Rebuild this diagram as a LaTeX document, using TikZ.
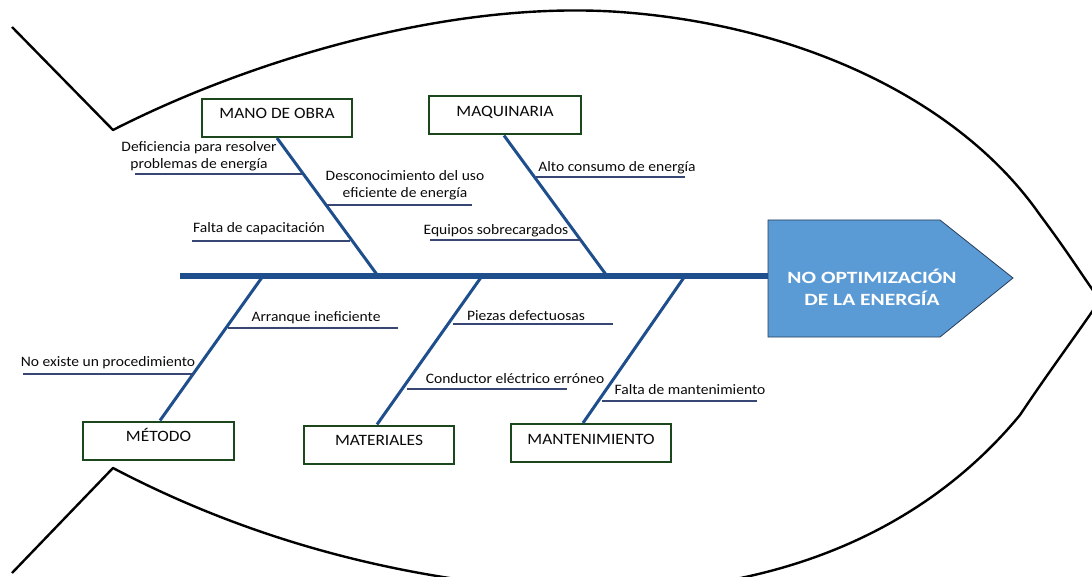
\documentclass[tikz,border=0pt]{standalone}
\usepackage{fontspec}
\setmainfont{Carlito}
\newfontfamily\lblfont[FakeStretch=1.08]{Carlito}
\newfontfamily\catfont[FakeStretch=1.1]{Carlito}
\newfontfamily\headfont[FakeStretch=1.25]{Carlito}
\definecolor{bonecol}{RGB}{30,78,140}
\definecolor{subcol}{RGB}{55,70,115}
\definecolor{boxcol}{RGB}{28,70,28}
\definecolor{headfill}{RGB}{91,155,213}
\definecolor{headline}{RGB}{40,60,90}
\definecolor{txtcol}{RGB}{10,10,10}
\tikzset{
  fish/.style={line width=2.4pt, black, line join=round},
  spine/.style={line width=5.5pt, bonecol},
  bone/.style={line width=3pt, bonecol},
  sub/.style={line width=1.3pt, subcol},
  catbox/.style={draw=boxcol, line width=2pt, fill=white, minimum width=150pt,
    inner xsep=0pt, inner ysep=3pt, text height=17pt, text depth=15pt,
    font=\catfont\fontsize{15.8}{17}\selectfont, text=txtcol},
  lbl/.style={font=\lblfont\fontsize{14.4}{17}\selectfont, text=txtcol, inner sep=0pt, align=center},
}
\begin{document}
\begin{tikzpicture}[x=1pt,y=-1pt]
\useasboundingbox (0,0) rectangle (1092,577);
% fish outline
\begin{scope}
\clip (0,0) rectangle (1092,577);
\draw[fish] (12,27) -- (113,130)
  .. controls (250,60) and (450,0) .. (620,12)
  .. controls (800,25) and (960,100) .. (1040,215)
  .. controls (1070,255) and (1085,280) .. (1100,300)
  .. controls (1080,330) and (1050,370) .. (1020,415)
  .. controls (900,560) and (720,600) .. (560,590)
  .. controls (400,580) and (250,540) .. (113,468)
  -- (12,573);
\end{scope}
% head
\fill[headfill, draw=headline, line width=0.8pt] (768,220) -- (940,220) -- (1013,278) -- (940,337) -- (768,337) -- cycle;
\node (head) [font=\headfont\bfseries\fontsize{17.2}{22}\selectfont, text=white, align=center] at (872,287) {NO OPTIMIZACIÓN\\DE LA ENERGÍA};
\coordinate (headin) at (768,276);
\coordinate (tail) at (180,276);
% spine
\draw[spine] (tail) -- (headin);
% category boxes
\node[catbox] (mo) at (277,118) {MANO DE OBRA};
\node[catbox, minimum width=152pt] (mq) at (505,115.5) {MAQUINARIA};
\node[catbox, minimum width=151pt] (me) at (158.5,440.5) {MÉTODO};
\node[catbox] (ma) at (379,444.5) {MATERIALES};
\node[catbox, minimum width=160pt] (mt) at (591,443) {MANTENIMIENTO};
% spine junctions
\coordinate (j1) at (378,276);
\coordinate (j2) at (607,276);
\coordinate (j3) at (263,276);
\coordinate (j4) at (482,276);
\coordinate (j5) at (685,276);
% bones
\draw[bone] (mo.south) -- (j1);
\draw[bone] ([xshift=-1pt]mq.south) -- (j2);
\draw[bone] ([xshift=1.5pt]me.north) -- (j3);
\draw[bone] ([xshift=-2pt]ma.north) -- (j4);
\draw[bone] ([xshift=-8pt]mt.north) -- (j5);
% sub-causes: mano de obra
\coordinate (a1) at (135,174); \coordinate (b1) at (302,174);
\draw[sub] (a1) -- (b1);
\node[lbl] (t1) at (199,156) {Deficiencia para resolver\\problemas de energía};
\coordinate (a2) at (192,241); \coordinate (b2) at (350,241);
\draw[sub] (a2) -- (b2);
\node[lbl] (t2) at (259,229) {Falta de capacitación};
\coordinate (a3) at (327,205); \coordinate (b3) at (472,205);
\draw[sub] (a3) -- (b3);
\node[lbl] (t3) at (405,185) {Desconocimiento del uso\\eficiente de energía};
% maquinaria
\coordinate (a4) at (536,177); \coordinate (b4) at (685,177);
\draw[sub] (a4) -- (b4);
\node[lbl] (t4) at (617,168) {Alto consumo de energía};
\coordinate (a5) at (430,240); \coordinate (b5) at (581,240);
\draw[sub] (a5) -- (b5);
\node[lbl] (t5) at (496,231) {Equipos sobrecargados};
% metodo
\coordinate (a6) at (228,328); \coordinate (b6) at (398,328);
\draw[sub] (a6) -- (b6);
\node[lbl] (t6) at (316,318) {Arranque ineficiente};
\coordinate (a7) at (23,374); \coordinate (b7) at (193,374);
\draw[sub] (a7) -- (b7);
\node[lbl] (t7) at (108,363) {No existe un procedimiento};
% materiales
\coordinate (a8) at (453,324); \coordinate (b8) at (613,324);
\draw[sub] (a8) -- (b8);
\node[lbl] (t8) at (526,316) {Piezas defectuosas};
\coordinate (a9) at (407,389); \coordinate (b9) at (567,389);
\draw[sub] (a9) -- (b9);
\node[lbl] (t9) at (515,379) {Conductor eléctrico erróneo};
% mantenimiento
\coordinate (a10) at (602,401); \coordinate (b10) at (757,401);
\draw[sub] (a10) -- (b10);
\node[lbl] (t10) at (690,390) {Falta de mantenimiento};
\end{tikzpicture}
\end{document}
